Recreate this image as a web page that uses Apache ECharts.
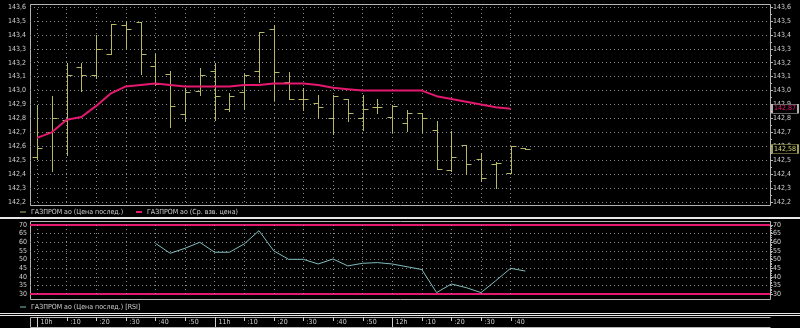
<!DOCTYPE html>
<html><head><meta charset="utf-8">
<script src="https://cdn.jsdelivr.net/npm/echarts@6.0.0/dist/echarts.min.js"></script>
<style>html,body{margin:0;padding:0;background:#000}#c{width:800px;height:328px}</style>
</head><body><div id="c"></div>
<script>
// ---------- data ----------
const times = ['10:00','10:05','10:10','10:15','10:20','10:25','10:30','10:35','10:40','10:45',
  '10:50','10:55','11:00','11:05','11:10','11:15','11:20','11:25','11:30','11:35',
  '11:40','11:45','11:50','11:55','12:00','12:05','12:10','12:15','12:20','12:25',
  '12:30','12:35','12:40','12:45'];
const openP  = [142.52,142.70,142.79,143.17,143.11,143.26,143.47,143.49,143.18,143.12,
  142.83,143.00,143.14,142.87,142.99,143.14,143.44,143.06,142.94,142.91,
  142.80,142.94,142.80,142.88,142.81,142.77,142.84,142.72,142.43,142.61,
  142.51,142.47,142.41,142.59];
const highP  = [142.90,142.96,143.20,143.20,143.40,143.48,143.50,143.49,143.26,143.14,
  143.02,143.16,143.20,142.98,143.12,143.42,143.47,143.13,143.02,142.97,
  142.97,142.94,142.97,142.94,142.90,142.86,142.84,142.78,142.71,142.61,
  142.55,142.49,142.60,142.59];
const lowP   = [142.51,142.42,142.54,143.00,143.09,143.26,143.30,143.12,143.04,142.74,
  142.78,142.97,142.79,142.85,142.87,143.06,142.93,142.94,142.86,142.80,
  142.69,142.78,142.72,142.84,142.70,142.71,142.70,142.44,142.42,142.40,
  142.35,142.30,142.41,142.58];
const closeP = [142.59,142.80,143.11,143.11,143.30,143.48,143.44,143.26,143.05,142.89,
  142.99,143.11,142.96,142.96,143.11,143.42,143.13,142.94,142.94,142.88,
  142.96,142.84,142.87,142.88,142.89,142.84,142.80,142.44,142.52,142.47,
  142.37,142.48,142.60,142.58];
const vwap   = [142.66,142.70,142.79,142.81,142.89,142.98,143.03,143.04,143.05,143.04,
  143.03,143.03,143.03,143.03,143.04,143.04,143.05,143.05,143.05,143.04,
  143.02,143.01,143.00,143.00,143.00,143.00,143.00,142.96,142.94,142.92,
  142.90,142.88,142.87];
const rsi    = [null,null,null,null,null,null,null,null,59.4,53.6,
  56.5,60.0,54.2,54.2,59.0,66.7,55.0,50.1,50.1,47.4,
  50.3,46.3,47.8,48.2,47.4,45.8,44.2,30.8,35.8,33.7,
  30.8,37.7,44.9,43.3];
const timeLabelAt = ['10:00','10:10','10:20','10:30','10:40','10:50','11:00','11:10','11:20','11:30',
  '11:40','11:50','12:00','12:10','12:20','12:30','12:40'];
const timeLabels  = ['10h',':10',':20',':30',':40',':50','11h',':10',':20',':30',
  ':40',':50','12h',':10',':20',':30',':40'];
const rsiLevels = [70, 30];
const nameLast = 'ГАЗПРОМ ао (Цена послед.)';
const nameVwap = 'ГАЗПРОМ ао (Ср. взв. цена)';
const nameRsi  = 'ГАЗПРОМ ао (Цена послед.) [RSI]';

// ---------- styling ----------
const OLIVE = '#b8b864', MAG = '#e5186f', TEAL = '#7fbcbc';
const GRIDC = '#8a8a8a', FRAME = '#b4b4b4', TXT = '#d0d0d0';
const FONT = "'DejaVu Sans Condensed','Liberation Sans Narrow',sans-serif";
const FS = 7;
const X_MIN = -2.365, X_MAX = 247.64;

const toMin = s => { const [h, m] = s.split(':').map(Number); return (h - 10) * 60 + m; };
const fmt1 = v => v.toFixed(1).replace('.', ',');
const fmt2 = v => v.toFixed(2).replace('.', ',');
const dotted = {color: GRIDC, type: [1, 3], width: 1};

const ohlcData = times.map((t, i) => [toMin(t), openP[i], highP[i], lowP[i], closeP[i]]);
const vwapData = vwap.map((v, i) => [toMin(times[i]), v]);
const rsiData = times.map((t, i) => [toMin(t), rsi[i]]).filter(d => d[1] !== null);
const vGrid = timeLabelAt.map(s => ({xAxis: toMin(s)}));
const stripData = timeLabelAt.map((s, i) => [toMin(s), i]);

function renderOHLC(params, api) {
  const t = api.value(0);
  const pO = api.coord([t, api.value(1)]);
  const pH = api.coord([t, api.value(2)]);
  const pL = api.coord([t, api.value(3)]);
  const pC = api.coord([t, api.value(4)]);
  const x = Math.round(pH[0]) + 0.5;
  const yo = Math.round(pO[1]) + 0.5, yc = Math.round(pC[1]) + 0.5;
  const st = {stroke: OLIVE, lineWidth: 1};
  return {type: 'group', children: [
    {type: 'line', shape: {x1: x, y1: Math.round(pH[1]), x2: x, y2: Math.round(pL[1]) + 1}, style: st},
    {type: 'line', shape: {x1: x - 5, y1: yo, x2: x, y2: yo}, style: st},
    {type: 'line', shape: {x1: x, y1: yc, x2: x + 5, y2: yc}, style: st}
  ]};
}
function renderStrip(params, api) {
  const t = api.value(0), i = api.value(1);
  const top = api.coord([t, 1]), bot = api.coord([t, 0]);
  const x = Math.round(top[0]) + 0.5;
  const isHour = /h$/.test(timeLabels[i]);
  return {type: 'group', children: [
    {type: 'line', shape: {x1: x, y1: top[1], x2: x, y2: isHour ? bot[1] : top[1] + 4}, style: {stroke: TXT, lineWidth: 1}},
    {type: 'text', x: x + 3, y: (top[1] + bot[1]) / 2 + 0.5, style: {text: timeLabels[i], fill: TXT, font: FS + 'px ' + FONT, verticalAlign: 'middle', align: 'left'}}
  ]};
}

const chart = echarts.init(document.getElementById('c'), null, {renderer: 'canvas'});
const axisLab = (m, fmt) => ({color: TXT, fontSize: FS, fontFamily: FONT, margin: m, formatter: fmt,
  showMinLabel: true, showMaxLabel: true, hideOverlap: false});
const legendText = {color: TXT, fontSize: FS, fontFamily: FONT, lineHeight: 10};

chart.setOption({
  backgroundColor: '#000',
  animation: false,
  textStyle: {fontFamily: FONT},
  grid: [
    {left: 30, right: 30, top: 7, height: 195},
    {left: 30, right: 30, top: 225, height: 69},
    {left: 30, right: 30, top: 317, height: 10}
  ],
  xAxis: [
    {gridIndex: 0, type: 'value', min: X_MIN, max: X_MAX, show: false},
    {gridIndex: 1, type: 'value', min: X_MIN, max: X_MAX, show: false},
    {gridIndex: 2, type: 'value', min: X_MIN, max: X_MAX, show: false}
  ],
  yAxis: [
    {gridIndex: 0, type: 'value', min: 142.2, max: 143.6, interval: 0.1, position: 'left',
      axisLine: {show: false}, axisTick: {show: false}, axisLabel: axisLab(4, fmt1),
      splitLine: {show: true, lineStyle: dotted}},
    {gridIndex: 0, type: 'value', min: 142.2, max: 143.6, interval: 0.1, position: 'right',
      axisLine: {show: false}, axisTick: {show: true, length: 3, lineStyle: {color: FRAME}},
      minorTick: {show: true, splitNumber: 2, length: 2, lineStyle: {color: FRAME}},
      axisLabel: axisLab(3, fmt1), splitLine: {show: false}},
    {gridIndex: 1, type: 'value', min: 30, max: 70, interval: 5, position: 'left',
      axisLine: {show: false}, axisTick: {show: false}, axisLabel: axisLab(3, v => String(v)),
      splitLine: {show: true, lineStyle: dotted}},
    {gridIndex: 1, type: 'value', min: 30, max: 70, interval: 5, position: 'right',
      axisLine: {show: false}, axisTick: {show: true, length: 3, lineStyle: {color: FRAME}},
      minorTick: {show: true, splitNumber: 5, length: 2, lineStyle: {color: FRAME}},
      axisLabel: axisLab(3, v => String(v)), splitLine: {show: false}},
    {gridIndex: 2, type: 'value', min: 0, max: 1, show: false}
  ],
  legend: [
    {left: 20, top: 207, padding: 0, itemWidth: 6, itemHeight: 1, itemGap: 0, selectedMode: false,
      textStyle: legendText, data: [{name: nameLast, icon: 'rect', itemStyle: {color: OLIVE}}]},
    {left: 136, top: 207, padding: 0, itemWidth: 6, itemHeight: 2, itemGap: 0, selectedMode: false,
      textStyle: legendText, data: [{name: nameVwap, icon: 'rect', itemStyle: {color: MAG}}]},
    {left: 20, top: 302, padding: 0, itemWidth: 6, itemHeight: 1, itemGap: 0, selectedMode: false,
      textStyle: legendText, data: [{name: nameRsi, icon: 'rect', itemStyle: {color: TEAL}}]}
  ],
  graphic: [
    {type: 'rect', silent: true, z: 0, shape: {x: 30.5, y: 4.5, width: 740, height: 201}, style: {fill: null, stroke: FRAME, lineWidth: 1}},
    {type: 'rect', silent: true, z: 0, shape: {x: 0, y: 217, width: 800, height: 2}, style: {fill: '#e8e8e8'}},
    {type: 'rect', silent: true, z: 0, shape: {x: 30.5, y: 221.5, width: 740, height: 78}, style: {fill: null, stroke: FRAME, lineWidth: 1}},
    {type: 'rect', silent: true, z: 0, shape: {x: 0, y: 313, width: 800, height: 1}, style: {fill: '#e8e8e8'}},
    {type: 'rect', silent: true, z: 0, shape: {x: 0, y: 315, width: 800, height: 1}, style: {fill: '#e8e8e8'}},
    {type: 'polyline', silent: true, z: 0, shape: {points: [[770.5, 317.5], [30.5, 317.5], [30.5, 327.5], [770.5, 327.5]]}, style: {fill: null, stroke: FRAME, lineWidth: 1}}
  ],
  series: [
    {name: nameLast, type: 'custom', xAxisIndex: 0, yAxisIndex: 0, renderItem: renderOHLC,
      itemStyle: {color: OLIVE}, data: ohlcData, clip: false, z: 3,
      markLine: {silent: true, symbol: ['none', 'none'], label: {show: false}, lineStyle: dotted, z: 1, data: vGrid},
      markPoint: {symbol: 'rect', symbolSize: [26, 9], symbolOffset: [15, 0], z: 10,
        itemStyle: {color: '#000', borderColor: OLIVE, borderWidth: 1},
        label: {show: true, position: 'inside', color: '#d8d870', fontSize: FS, fontFamily: FONT, formatter: () => fmt2(closeP[closeP.length - 1])},
        data: [{coord: [X_MAX, closeP[closeP.length - 1]]}]}},
    {name: nameVwap, type: 'line', xAxisIndex: 0, yAxisIndex: 0, data: vwapData, symbol: 'none',
      lineStyle: {color: MAG, width: 2}, itemStyle: {color: MAG}, z: 4, clip: false,
      markPoint: {symbol: 'rect', symbolSize: [26, 9], symbolOffset: [15, 0], z: 10,
        itemStyle: {color: '#000', borderColor: '#d0d0d0', borderWidth: 1},
        label: {show: true, position: 'inside', color: MAG, fontSize: FS, fontFamily: FONT, formatter: () => fmt2(vwap[vwap.length - 1])},
        data: [{coord: [X_MAX, vwap[vwap.length - 1]]}]}},
    {name: nameRsi, type: 'line', xAxisIndex: 1, yAxisIndex: 2, data: rsiData, symbol: 'none',
      lineStyle: {color: TEAL, width: 1}, itemStyle: {color: TEAL}, z: 4, clip: false,
      markLine: {silent: true, symbol: ['none', 'none'], label: {show: false},
        data: rsiLevels.map(v => ({yAxis: v, lineStyle: {color: MAG, width: 2, type: 'solid'}}))
          .concat(vGrid.map(d => ({xAxis: d.xAxis, lineStyle: dotted})))}},
    {name: 'time', type: 'custom', xAxisIndex: 2, yAxisIndex: 4, renderItem: renderStrip, data: stripData, clip: false, silent: true}
  ]
});
</script></body></html>
